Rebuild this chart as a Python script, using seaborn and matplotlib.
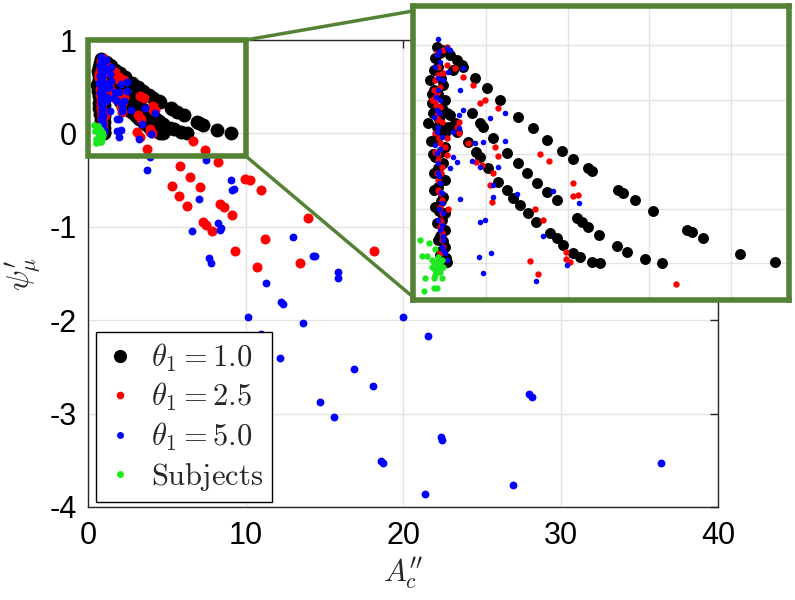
import matplotlib
matplotlib.use("Agg")
import numpy as np
import pandas as pd
import seaborn as sns
import matplotlib.pyplot as plt
from matplotlib.patches import Rectangle, ConnectionPatch
from matplotlib.lines import Line2D

# ---------------- data ----------------
black_x = [1.29, 1.45, 1.73, 2.02, 2.34, 2.79, 3.16, 3.49, 3.87, 4.14, 4.50, 4.59, 5.24, 5.36, 5.65, 6.09, 6.91, 7.03, 7.32, 8.21, 9.07,
           1.65, 1.86, 1.94, 2.18, 2.51, 2.79, 3.00, 3.24, 3.49, 3.73, 4.22, 4.34, 4.50, 4.77, 5.20, 5.44, 5.89, 6.30,
           1.57, 1.77, 1.86, 2.04, 2.30, 2.51, 2.67, 2.83, 3.04, 3.23, 3.57, 3.73, 3.89, 4.14, 4.30, 4.59, 4.79,
           0.80, 0.92, 0.76, 0.72, 0.63, 0.96, 0.72, 1.00, 0.67, 1.04, 0.59, 0.80, 1.00, 0.72, 1.00, 0.76, 0.96, 0.72,
           1.00, 0.72, 0.96, 0.76, 1.00, 0.80, 1.00, 0.84, 1.00, 0.88, 1.04, 0.96,
           1.12, 1.41, 1.20, 1.12, 1.24, 1.08, 1.29,
           0.88, 0.84, 0.90, 0.82, 0.92, 0.70, 0.86, 0.94, 0.80, 0.90, 0.84, 0.92, 0.82, 0.90, 0.86, 0.92, 0.88, 0.94,
           0.90, 1.02, 0.68, 0.66, 0.70]
black_y = [0.746, 0.720, 0.679, 0.642, 0.599, 0.538, 0.495, 0.452, 0.412, 0.381, 0.348, 0.340, 0.269, 0.257, 0.232, 0.192, 0.122, 0.113, 0.092, 0.034, 0.006,
           0.550, 0.514, 0.501, 0.461, 0.403, 0.367, 0.330, 0.294, 0.263, 0.232, 0.165, 0.153, 0.134, 0.104, 0.063, 0.043, 0.015, 0.002,
           0.446, 0.410, 0.391, 0.351, 0.300, 0.269, 0.238, 0.214, 0.183, 0.153, 0.110, 0.092, 0.067, 0.037, 0.024, 0.006, 0.000,
           0.795, 0.783, 0.752, 0.709, 0.673, 0.654, 0.636, 0.599, 0.587, 0.550, 0.514, 0.501, 0.477, 0.452, 0.428, 0.391, 0.367, 0.330,
           0.306, 0.269, 0.245, 0.208, 0.183, 0.147, 0.122, 0.086, 0.061, 0.030, 0.006, 0.000,
           0.764, 0.728, 0.709, 0.544, 0.514, 0.501, 0.483,
           0.770, 0.720, 0.680, 0.620, 0.570, 0.550, 0.530, 0.500, 0.460, 0.410, 0.350, 0.310, 0.280, 0.230, 0.190, 0.160, 0.100, 0.080,
           0.045, 0.020, 0.620, 0.450, 0.400]

red_x = [0.80, 0.96, 1.04, 0.84, 0.96, 0.76, 0.88, 0.80, 0.72, 1.04, 1.24, 1.45, 1.69, 1.86, 1.98, 2.30, 1.33, 1.29, 1.33,
         1.04, 1.00, 1.04, 1.57, 1.77, 1.90, 2.18, 2.30, 2.22, 2.10, 2.14, 0.84, 0.80, 0.84, 0.88, 0.92, 1.08, 0.88, 0.92, 0.92,
         3.32, 3.54, 4.14, 4.14, 4.26, 3.20, 3.39, 3.95, 3.96, 4.06, 3.09, 3.28, 6.66,
         0.72, 0.76, 0.67, 0.88, 0.80, 0.84, 0.76, 0.88, 0.76, 0.92, 0.88, 0.92, 0.88, 0.96, 0.88,
         0.84, 0.78, 0.92, 0.86, 0.82, 0.90, 0.84, 0.90, 0.94,
         3.77, 5.82, 6.45, 5.33, 7.09, 5.76, 6.29, 7.41, 8.25, 8.36, 8.63, 9.14, 7.30, 7.51, 7.87, 9.95, 10.27,
         10.97, 11.22, 9.31, 10.73, 13.99, 18.18, 13.46]
red_y = [0.770, 0.783, 0.795, 0.721, 0.697, 0.673, 0.648, 0.624, 0.599, 0.728, 0.715, 0.685, 0.654, 0.587, 0.599, 0.569, 0.520, 0.501, 0.477,
         0.459, 0.428, 0.397, 0.440, 0.373, 0.361, 0.330, 0.394, 0.426, 0.287, 0.226, 0.379, 0.330, 0.306, 0.257, 0.232, 0.198, 0.159, 0.110, 0.086,
         0.400, 0.377, 0.296, 0.247, 0.251, 0.198, 0.159, 0.043, 0.015, 0.004, 0.010, -0.039, -0.077,
         0.636, 0.611, 0.600, 0.575, 0.544, 0.526, 0.477, 0.440, 0.410, 0.355, 0.208, 0.183, 0.134, 0.061, 0.037,
         0.690, 0.580, 0.520, 0.460, 0.400, 0.330, 0.270, 0.150, 0.100,
         -0.164, -0.353, -0.467, -0.567, -0.574, -0.674, -0.773, -0.182, -0.307, -0.759, -0.788, -0.873, -0.948, -0.984, -1.045, -0.485, -0.503,
         -0.602, -1.134, -1.258, -1.430, -0.902, -1.258, -1.383]

blue_x = [0.84, 1.04, 1.12, 0.80, 0.88, 1.45, 1.08, 0.96, 1.37, 0.72, 0.80, 0.84, 0.92, 0.80, 0.84, 0.84, 0.88, 0.92, 0.96, 0.88, 0.96,
          1.00, 1.04, 1.45, 1.33, 2.10, 2.47, 1.20, 1.29, 1.12, 1.65, 1.86, 1.73, 1.94, 2.47, 2.29, 2.18, 2.17, 1.37, 1.86, 1.98,
          3.40, 3.65, 4.28, 1.84, 2.12, 1.94, 3.23, 3.99, 2.75, 1.20, 1.33,
          0.76, 0.84, 0.88, 0.76, 0.92, 0.84, 0.92,
          0.86, 0.82, 0.78, 0.86, 0.80, 0.88, 0.86, 0.90, 0.86, 0.92, 0.94, 0.96,
          3.77, 3.91, 7.51, 9.06, 9.14, 9.30, 7.03, 8.25, 8.36, 8.45, 6.63, 7.66, 7.79, 11.32, 12.27, 12.40, 10.16, 10.97,
          12.99, 14.27, 14.40, 15.89, 15.89, 13.63, 19.98, 21.61, 12.19, 16.89, 18.08, 14.73, 15.62, 22.39, 22.50, 18.60, 18.70,
          21.42, 26.97, 28.02, 28.20, 36.38]
blue_y = [0.822, 0.789, 0.783, 0.764, 0.740, 0.715, 0.703, 0.673, 0.636, 0.538, 0.563, 0.501, 0.465, 0.403, 0.367, 0.330, 0.293, 0.220, 0.183, 0.122, 0.085,
          0.037, 0.012, 0.563, 0.544, 0.532, 0.553, 0.391, 0.373, 0.348, 0.375, 0.352, 0.440, 0.446, 0.450, 0.352, 0.287, 0.244, 0.235, 0.153, 0.159,
          0.101, 0.267, 0.222, 0.024, 0.039, -0.034, -0.065, -0.006, 0.253, 0.483, 0.495,
          0.721, 0.636, 0.599, 0.434, 0.257, 0.159, 0.061,
          0.780, 0.680, 0.610, 0.550, 0.480, 0.420, 0.320, 0.260, 0.200, 0.140, 0.100, 0.050,
          -0.396, -0.253, -0.289, -0.503, -0.602, -0.590, -0.699, -0.959, -1.030, -1.010, -1.045, -1.330, -1.387, -1.601, -1.804, -1.830, -1.964, -2.150,
          -1.109, -1.316, -1.316, -1.483, -1.548, -2.029, -1.971, -2.171, -2.410, -2.524, -2.706, -2.880, -3.041, -3.255, -3.280, -3.508, -3.530,
          -3.861, -3.768, -2.795, -2.820, -3.533]

subj_x = [0.39, 0.62, 0.43, 0.55, 0.76, 0.72, 0.80, 0.92, 0.84, 0.67, 0.88, 0.76, 0.51, 0.72, 0.92, 0.49, 0.72, 0.80, 0.96, 0.84, 0.88, 0.76, 0.67]
subj_y = [0.085, 0.076, 0.027, 0.027, 0.051, 0.006, 0.000, 0.012, -0.012, -0.012, -0.031, -0.043, -0.055, -0.055, -0.055, -0.100, -0.092, -0.092,
          -0.012, 0.024, 0.000, -0.025, 0.012]

series_names = [r"$\theta_1 = 1.0$", r"$\theta_1 = 2.5$", r"$\theta_1 = 5.0$", r"$\mathrm{Subjects}$"]
series_colors = ["#000000", "#ff0000", "#0000ff", "#1ee81e"]

df = pd.concat([
    pd.DataFrame({"x": black_x, "y": black_y, "series": series_names[0]}),
    pd.DataFrame({"x": red_x, "y": red_y, "series": series_names[1]}),
    pd.DataFrame({"x": blue_x, "y": blue_y, "series": series_names[2]}),
    pd.DataFrame({"x": subj_x, "y": subj_y, "series": series_names[3]}),
], ignore_index=True)

# ---------------- style ----------------
sns.set_theme(style="white")
plt.rcParams["font.family"] = ["Liberation Sans", "DejaVu Sans"]
plt.rcParams["mathtext.fontset"] = "cm"
plt.rcParams["axes.unicode_minus"] = False

GREEN = "#548235"
main_sizes = [100, 52, 32, 24]
ins_sizes = [62, 21, 16, 21]

fig = plt.figure(figsize=(7.95, 6.0), dpi=100)
ax = fig.add_axes([88 / 795, 93 / 600, 630 / 795, 467 / 600])

for i, name in enumerate(series_names):
    sns.scatterplot(data=df[df["series"] == name], x="x", y="y", color=series_colors[i],
                    s=main_sizes[i], linewidth=0, ax=ax, legend=False, zorder=2 + i)

ax.set_xlim(0, 40)
ax.set_ylim(-4, 1)
ax.set_xticks([0, 10, 20, 30, 40])
ax.set_xticklabels(["0", "10", "20", "30", "40"])
ax.set_yticks([-4, -3, -2, -1, 0, 1])
ax.set_yticklabels(["-4", "-3", "-2", "-1", "0", "1"])
ax.tick_params(direction="in", length=6, width=1, top=True, right=True,
               labelsize=22, color="#262626", labelcolor="black")
ax.tick_params(axis="x", pad=10)
ax.tick_params(axis="y", pad=8)
ax.grid(True, color="#e3e3e3", linewidth=1)
ax.set_axisbelow(True)
for sp in ax.spines.values():
    sp.set_color("#262626")
    sp.set_linewidth(1)
ax.set_xlabel(r"$A_c''$", fontsize=22, labelpad=3)
ax.set_ylabel(r"$\psi_\mu'$", fontsize=22, labelpad=4)

handles = [Line2D([], [], linestyle="none", marker="o", markersize=ms, color=c, markeredgewidth=0)
           for ms, c in zip([9.5, 5.5, 5.0, 5.0], series_colors)]
leg = ax.legend(handles, series_names, loc="lower left", bbox_to_anchor=(0.0127, 0.0107),
                borderaxespad=0, fontsize=22, frameon=True, fancybox=False,
                edgecolor="black", framealpha=1, handlelength=1.0, handletextpad=0.5,
                labelspacing=0.25, borderpad=0.3)
leg.get_frame().set_linewidth(1)

rect = Rectangle((0, -0.24), 10, 1.24, fill=False, edgecolor=GREEN, linewidth=4,
                 clip_on=False, zorder=7)
ax.add_patch(rect)

# ---------------- inset ----------------
axins = fig.add_axes([412.5 / 795, (600 - 299.5) / 600, 376 / 795, 294 / 600])
for i, name in enumerate(series_names):
    sns.scatterplot(data=df[df["series"] == name], x="x", y="y", color=series_colors[i],
                    s=ins_sizes[i], linewidth=0, ax=axins, legend=False, zorder=2 + i)
axins.set_xlim(0.205, 9.40)
axins.set_ylim(-0.133, 0.946)
axins.set_xticks([2, 4, 6, 8])
axins.set_yticks([0, 0.2, 0.4, 0.6, 0.8])
axins.set_xticklabels([])
axins.set_yticklabels([])
axins.tick_params(length=0)
axins.set_xlabel("")
axins.set_ylabel("")
axins.grid(True, color="#e3e3e3", linewidth=1)
axins.set_axisbelow(True)
axins.set_facecolor("white")
for sp in axins.spines.values():
    sp.set_color(GREEN)
    sp.set_linewidth(4)

for xyA, xyB in [((10, 1.0), (0, 0.981)), ((10, -0.24), (0, 0.01))]:
    con = ConnectionPatch(xyA=xyA, coordsA=ax.transData, xyB=xyB, coordsB=axins.transAxes,
                          color=GREEN, linewidth=2.5)
    fig.add_artist(con)

fig.savefig("out.png", dpi=100)
